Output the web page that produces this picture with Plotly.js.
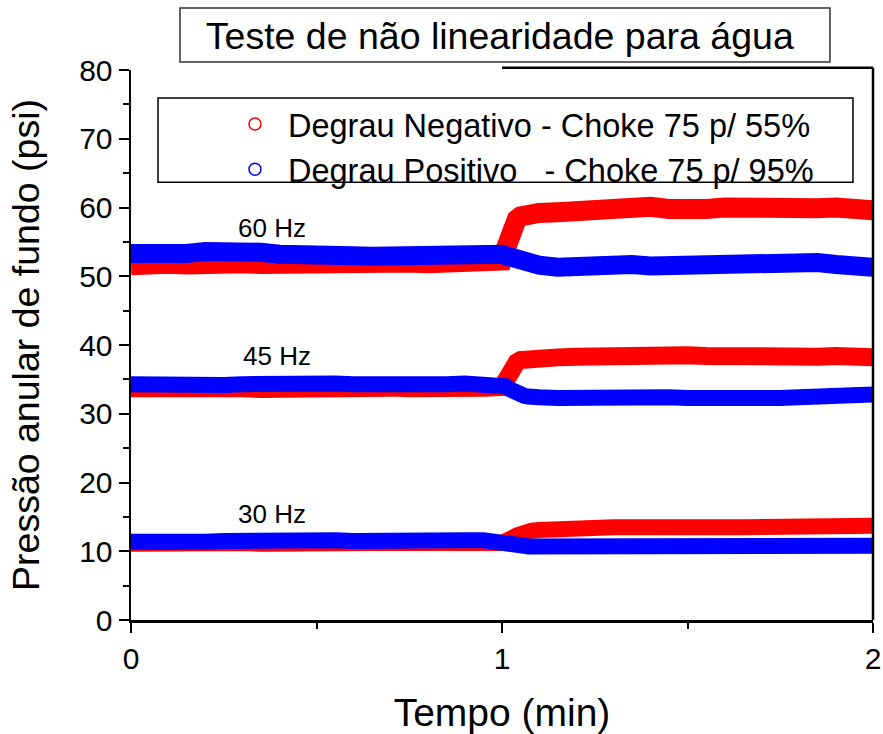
<!DOCTYPE html>
<html>
<head>
<meta charset="utf-8">
<script src="https://cdn.plot.ly/plotly-3.0.1.min.js"></script>
<style>html,body{margin:0;padding:0;background:#fff;}#chart{width:883px;height:734px;}</style>
</head>
<body>
<div id="chart"></div>
<script>
// Time (min)
var tempo = [0, 0.05, 0.1, 0.15, 0.2, 0.25, 0.3, 0.35, 0.4, 0.45, 0.5, 0.55, 0.6, 0.65, 0.7, 0.75, 0.8, 0.85, 0.9, 0.95, 1.0,
             1.01, 1.02, 1.03, 1.04, 1.05, 1.06, 1.07, 1.08,
             1.1, 1.15, 1.2, 1.25, 1.3, 1.35, 1.4, 1.45, 1.5, 1.55, 1.6, 1.65, 1.7, 1.75, 1.8, 1.85, 1.9, 1.95, 2.0];

// 60 Hz
var neg60 = [51.6, 52.0, 51.8, 51.7, 52.0, 52.1, 51.9, 51.8, 51.9, 52.0, 52.1, 51.9, 52.0, 52.1, 52.2, 52.0, 51.9, 52.1, 52.2, 52.2, 52.3,
             54.0, 56.0, 57.5, 58.3, 58.7, 58.9, 59.0, 59.1,
             59.2, 59.3, 59.6, 59.9, 60.1, 60.0, 60.1, 59.8, 59.6, 59.8, 60.0, 59.9, 59.6, 59.5, 59.7, 59.9, 60.0, 59.8, 59.6];
var pos60 = [53.3, 53.2, 53.0, 53.3, 53.6, 53.7, 53.4, 53.5, 53.2, 53.0, 53.0, 53.1, 53.0, 52.9, 53.0, 53.2, 53.0, 53.1, 53.3, 53.5, 53.2,
             53.0, 52.8, 52.6, 52.4, 52.2, 52.0, 51.9, 51.8,
             51.6, 51.3, 51.5, 51.7, 51.8, 51.7, 51.5, 51.6, 51.7, 51.7, 51.8, 51.7, 51.6, 51.8, 51.9, 52.0, 51.7, 51.4, 51.3];

// 45 Hz
var neg45 = [33.7, 33.8, 33.7, 33.6, 33.7, 33.8, 33.7, 33.6, 33.7, 33.8, 33.7, 33.7, 33.6, 33.7, 33.8, 33.7, 33.6, 33.7, 33.8, 33.8, 33.9,
             35.0, 36.2, 37.0, 37.5, 37.8, 37.9, 38.0, 38.0,
             38.1, 38.2, 38.3, 38.4, 38.5, 38.7, 38.8, 38.7, 38.5, 38.4, 38.3, 38.3, 38.4, 38.3, 38.2, 38.3, 38.4, 38.3, 38.2];
var pos45 = [34.3, 34.2, 34.3, 34.4, 34.3, 34.2, 34.3, 34.4, 34.3, 34.2, 34.3, 34.4, 34.3, 34.2, 34.3, 34.3, 34.2, 34.3, 34.4, 34.4, 34.2,
             34.0, 33.6, 33.2, 32.9, 32.7, 32.6, 32.5, 32.4,
             32.4, 32.3, 32.4, 32.5, 32.4, 32.3, 32.4, 32.4, 32.3, 32.2, 32.1, 32.0, 32.1, 32.3, 32.4, 32.5, 32.5, 32.7, 32.8];

// 30 Hz
var neg30 = [11.1, 11.2, 11.1, 11.2, 11.1, 11.2, 11.2, 11.1, 11.2, 11.2, 11.1, 11.2, 11.1, 11.2, 11.2, 11.1, 11.2, 11.2, 11.1, 11.2, 11.2,
             11.3, 11.6, 12.0, 12.3, 12.6, 12.8, 12.9, 13.0,
             13.1, 13.3, 13.4, 13.5, 13.5, 13.5, 13.6, 13.5, 13.5, 13.6, 13.5, 13.5, 13.6, 13.6, 13.5, 13.6, 13.6, 13.7, 13.7];
var pos30 = [11.4, 11.3, 11.4, 11.5, 11.4, 11.5, 11.6, 11.5, 11.6, 11.5, 11.6, 11.6, 11.5, 11.6, 11.5, 11.6, 11.5, 11.5, 11.6, 11.6, 11.5,
             11.4, 11.3, 11.2, 11.0, 10.9, 10.8, 10.7, 10.7,
             10.6, 10.4, 10.4, 10.5, 10.4, 10.5, 10.6, 10.6, 10.5, 10.6, 10.7, 10.6, 10.7, 10.7, 10.6, 10.7, 10.7, 10.8, 10.8];

var legendNames = ['Degrau Negativo - Choke 75 p/ 55%', 'Degrau Positivo\u00A0\u00A0\u00A0- Choke 75 p/ 95%'];
var freqLabels = ['60 Hz', '45 Hz', '30 Hz'];
var freqLabelX = [0.38, 0.393, 0.38];
var freqLabelY = [57.0, 38.4, 15.4];
var xTitle = 'Tempo (min)';
var yTitle = 'Pressão anular de fundo (psi)';
var chartTitle = 'Teste de não linearidade para água';

var RED = '#ff0000', BLUE = '#0000ff';
var FONT = '"Liberation Sans", Arial, sans-serif';

function band(y, color, w) {
  return {x: tempo, y: y, type: 'scatter', mode: 'lines', showlegend: false, hoverinfo: 'skip',
          line: {color: color, width: w, shape: 'linear'}};
}
var traces = [
  band(neg60, RED, 20), band(neg45, RED, 18), band(neg30, RED, 16),
  band(pos60, BLUE, 19), band(pos45, BLUE, 16), band(pos30, BLUE, 16),
  {x: [null], y: [null], type: 'scatter', mode: 'markers', name: legendNames[0],
   marker: {symbol: 'circle-open', size: 12, color: RED, line: {width: 1.5, color: RED}}},
  {x: [null], y: [null], type: 'scatter', mode: 'markers', name: legendNames[1],
   marker: {symbol: 'circle-open', size: 12, color: BLUE, line: {width: 1.5, color: BLUE}}}
];

var annotations = freqLabels.map(function (t, i) {
  return {x: freqLabelX[i], y: freqLabelY[i], xref: 'x', yref: 'y', text: t, showarrow: false,
          font: {family: FONT, size: 26, color: '#000'}};
});

var layout = {
  width: 883, height: 734,
  margin: {l: 131, r: 10, t: 70, b: 114},
  paper_bgcolor: '#fff', plot_bgcolor: '#fff',
  font: {family: FONT, color: '#000'},
  title: {text: chartTitle, font: {family: FONT, size: 37.5, color: '#000'},
          xref: 'paper', x: 0.497, xanchor: 'center', yref: 'container', y: 0.951, yanchor: 'middle'},
  xaxis: {range: [0, 2], tickvals: [0, 1, 2], ticktext: ['0', '1', '2'],
          showline: true, linecolor: '#000', linewidth: 2.5, mirror: false,
          ticks: 'outside', ticklen: 10, tickwidth: 2, tickcolor: '#000',
          minor: {tickvals: [0.5, 1.5], ticks: 'outside', ticklen: 6, tickwidth: 2, tickcolor: '#000'},
          showgrid: false, zeroline: false,
          tickfont: {family: FONT, size: 30, color: '#000'},
          title: {text: xTitle, font: {family: FONT, size: 39, color: '#000'}, standoff: 25}},
  yaxis: {range: [0, 80], tickvals: [0, 10, 20, 30, 40, 50, 60, 70, 80],
          showline: true, linecolor: '#000', linewidth: 2.5,
          ticks: 'outside', ticklen: 10, tickwidth: 2, tickcolor: '#000',
          minor: {tickvals: [5, 15, 25, 35, 45, 55, 65, 75], ticks: 'outside', ticklen: 6, tickwidth: 2, tickcolor: '#000'},
          showgrid: false, zeroline: false,
          tickfont: {family: FONT, size: 30, color: '#000'},
          title: {text: yTitle, font: {family: FONT, size: 37.5, color: '#000'}, standoff: 28}},
  showlegend: true,
  legend: {x: 0.1226, y: 0.952, xanchor: 'left', yanchor: 'top', bgcolor: 'rgba(0,0,0,0)',
           borderwidth: 0, itemwidth: 56, tracegroupgap: 0,
           font: {family: FONT, size: 32.5, color: '#000'}},
  annotations: annotations,
  shapes: [
    {type: 'line', xref: 'paper', yref: 'paper', x0: 1, x1: 1, y0: 0, y1: 1.004, line: {color: '#000', width: 2.5}},
    {type: 'line', xref: 'paper', yref: 'paper', x0: 0.5, x1: 1, y0: 1.004, y1: 1.004, line: {color: '#000', width: 2.5}},
    {type: 'rect', xref: 'paper', yref: 'paper', x0: 0.066, x1: 0.942, y0: 1.0145, y1: 1.1127, line: {color: '#333', width: 1.5}},
    {type: 'rect', xref: 'paper', yref: 'paper', x0: 0.0364, x1: 0.973, y0: 0.796, y1: 0.949, line: {color: '#000', width: 1.5}}
  ]
};

Plotly.newPlot('chart', traces, layout, {displayModeBar: false, staticPlot: true});
</script>
</body>
</html>
